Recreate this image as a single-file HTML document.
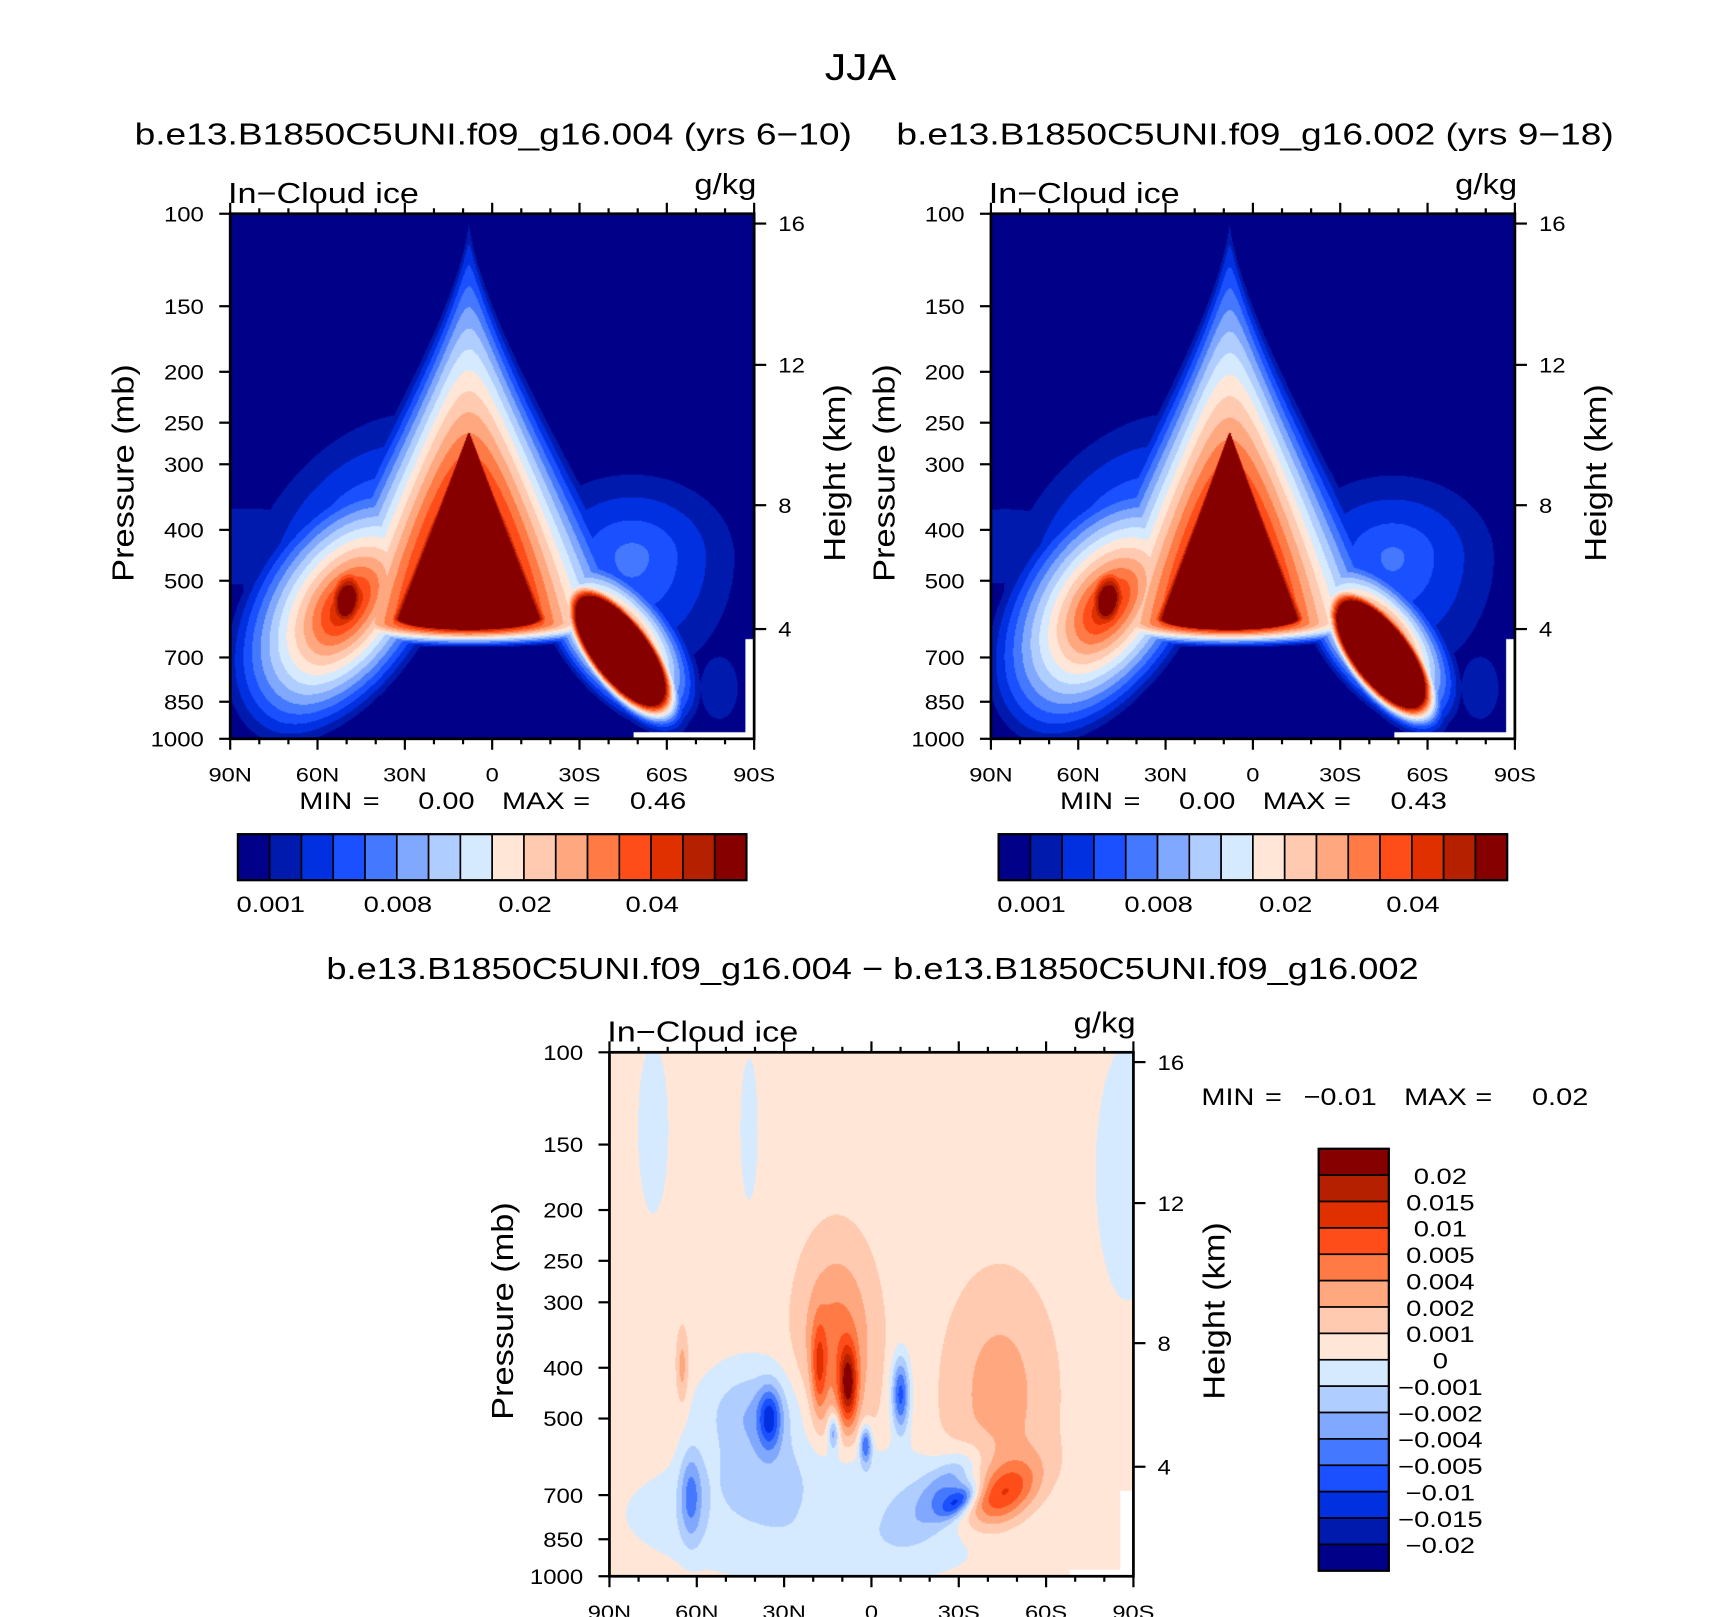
<!DOCTYPE html>
<html><head><meta charset="utf-8">
<style>
html,body{margin:0;padding:0;background:#fff;}
body{width:1710px;height:1616px;overflow:hidden;position:relative;}
#page{position:absolute;left:0;top:0;width:1560px;height:1474.3px;transform:scale(1.09615);transform-origin:0 0;}
canvas{position:absolute;}
svg{position:absolute;left:0;top:0;}
text{font-family:"Liberation Sans","DejaVu Sans",sans-serif;fill:#000;}
</style></head>
<body>
<div id="page">
<canvas id="c1" width="478" height="479" style="left:210px;top:195px;width:478px;height:479px"></canvas>
<canvas id="c2" width="478" height="479" style="left:904px;top:195px;width:478px;height:479px"></canvas>
<canvas id="c3" width="478" height="478" style="left:556px;top:960px;width:478px;height:478px"></canvas>
<svg id="svg" width="1560" height="1475" viewBox="0 0 1560 1475"></svg>
</div>
<script>
// ---- data ----
const latTicks = [90, 60, 30, 0, -30, -60, -90];
const latTickLabels = ["90N", "60N", "30N", "0", "30S", "60S", "90S"];
const presTicks = [100, 150, 200, 250, 300, 400, 500, 700, 850, 1000];
const heightTicks = [16, 12, 8, 4];
const heightTickPres = [104.4, 194, 359, 618];
const iceColors = ["#000088","#001aae","#0030e0","#1a50ff","#4478ff","#80a8ff","#b0cdff","#d6eaff","#ffe6d6","#ffcab0","#ffa880","#ff7a45","#ff4d1a","#e03000","#b42000","#870000"];
const iceBarLabels = ["0.001","0.008","0.02","0.04"];
const iceBarLabelIdx = [1, 5, 9, 13];
const diffBarLabels = ["0.02","0.015","0.01","0.005","0.004","0.002","0.001","0","\u22120.001","\u22120.002","\u22120.004","\u22120.005","\u22120.01","\u22120.015","\u22120.02"];

// panel 1 features (level units). pow 0 = linear profile
const b1Lat   = [8,    8,    50,   50,   -44,  -43,  -48,  85,   -78,  45];
const b1Pres  = [590,  600,  560,  545,  680,  650,  450,  430,  800,  420];
const b1A     = [0.125,0.36, 0.32, 0.06, 0.10, 0.22, 0.25, 0.14, 0.03, 0.35];
const b1Bup   = [1.0,  0.8,  0.20, 0.035,0.042,0.12, 0.20, 0.07, 0.05, 0.22];
const b1Bdn   = [0.02, 0.05, 0.17, 0.035,0.042,0.11, 0.30, 0.07, 0.05, 0.22];
const b1Ang   = [0,    0,    55,   80,   -53,  -50,  0,    0,    0,    50];
const b1Amp   = [30,   20,   15,   17,   40,   17,   4.6,  1.8,  2,    5];
const b1Pow   = [4,    0,    0,    2,    3,    0,    0,    4,    2,    0];
const b1Taper = [2.8,  1.3,  0,    0,    0,    0,    0,    0,    0,    0];
// panel 2
const b2Lat   = [8,    8,    50,   50,   -44,  -43,  -48,  85,   -78,  45];
const b2Pres  = [590,  600,  560,  545,  690,  650,  450,  430,  800,  420];
const b2A     = [0.12, 0.35, 0.32, 0.06, 0.098,0.22, 0.25, 0.14, 0.03, 0.35];
const b2Bup   = [1.0,  0.8,  0.20, 0.035,0.042,0.12, 0.20, 0.07, 0.05, 0.22];
const b2Bdn   = [0.02, 0.05, 0.17, 0.035,0.042,0.11, 0.30, 0.07, 0.05, 0.22];
const b2Ang   = [0,    0,    55,   80,   -53,  -50,  0,    0,    0,    50];
const b2Amp   = [30,   19.5, 14.8, 17,   40,   17,   4.4,  1.7,  2,    5];
const b2Pow   = [4,    0,    0,    2,    3,    0,    0,    4,    2,    0];
const b2Taper = [2.8,  1.3,  0,    0,    0,    0,    0,    0,    0,    0];
// difference panel (signed, added to base 8.5)
const dLat  = [12,  8,    18,   35,   40,   2,    13,   -10,  12,   62,   -30,  -45,  -44,  -88,  75,   42,   65,   -25];
const dPres = [360, 430,  400,  500,  500,  560,  530,  450,  760,  700,  720,  700,  450,  170,  140,  140,  400,  680];
const dA    = [0.05,0.012,0.01, 0.015,0.07, 0.008,0.008,0.012,0.33, 0.015,0.015,0.035,0.07, 0.05, 0.025,0.015,0.008,0.025];
const dB    = [0.13,0.05, 0.06, 0.04, 0.07, 0.025,0.025,0.05, 0.11, 0.06, 0.03, 0.055,0.15, 0.2,  0.14, 0.12, 0.05, 0.06];
const dAng  = [0,   0,    0,    0,    0,    0,    0,    0,    0,    0,    -50,  -50,  0,    0,    0,    0,    0,    -40];
const dAmp  = [3,   5.5,  3,    -4,   -2.6, -4.5, -3.5, -5,   -1.5, -3,   -4.5, 4.5,  2,    -1.5, -1.2, -1.1, 2,    -2.5];
const dPow  = [2,   2,    2,    2,    2,    2,    2,    2,    4,    2,    2,    2,    2,    4,    4,    4,    2,    2];

// ---- axis functions ----
const fx = lat => (90 - lat) / 180;
const fy = p => Math.log10(1000 / p);
function mkX(x0, w){ return lat => x0 + fx(lat) * w; }
function mkY(y0, h){ return p => y0 + h - fy(p) * h; }

function renderField(canvas, f, mode){
  const ctx = canvas.getContext('2d');
  const W = canvas.width, H = canvas.height;
  const img = ctx.createImageData(W, H);
  const rgb = iceColors.map(c => [parseInt(c.substr(1,2),16),parseInt(c.substr(3,2),16),parseInt(c.substr(5,2),16)]);
  const n = f.lat.length;
  const cx = f.lat.map(fx), cy = f.pres.map(fy);
  const ca = f.ang.map(a => Math.cos(a*Math.PI/180)), sa = f.ang.map(a => Math.sin(a*Math.PI/180));
  for (let j = 0; j < H; j++){
    const v = 1 - (j + 0.5) / H;
    for (let i = 0; i < W; i++){
      const u = (i + 0.5) / W;
      let L = mode === 'diff' ? 8.5 : 0;
      for (let k = 0; k < n; k++){
        const dx = u - cx[k], dy = v - cy[k];
        let A = f.A[k];
        const tp = f.taper ? f.taper[k] : 0;
        if (tp && dy > 0){ const fac = 1 - tp*dy; A = fac > 0.01 ? A*fac : 0.0001; }
        const p1 = dx*ca[k] + dy*sa[k];
        const p2 = -dx*sa[k] + dy*ca[k];
        const B = p2 >= 0 ? f.Bup[k] : f.Bdn[k];
        const r1 = p1 / A, r2 = p2 / B;
        const r = Math.sqrt(r1*r1 + r2*r2);
        const pw = f.pow[k];
        const val = pw === 0 ? f.amp[k] * Math.max(0, 1 - r) : f.amp[k] * Math.exp(-0.5 * Math.pow(r, pw));
        if (mode === 'diff') L += val; else L = Math.max(L, val);
      }
      let idx = Math.floor(L); if (idx < 0) idx = 0; if (idx > 15) idx = 15;
      const o = (j*W + i) * 4, c = rgb[idx];
      img.data[o] = c[0]; img.data[o+1] = c[1]; img.data[o+2] = c[2]; img.data[o+3] = 255;
    }
  }
  ctx.putImageData(img, 0, 0);
  ctx.fillStyle = '#fff';
  if (mode === 'diff'){
    ctx.fillRect(466, 400, 12, 78); ctx.fillRect(420, 472, 58, 6);
  } else {
    ctx.fillRect(470, 388, 8, 91); ctx.fillRect(368, 473, 110, 6);
  }
}
renderField(document.getElementById('c1'), {lat:b1Lat, pres:b1Pres, A:b1A, Bup:b1Bup, Bdn:b1Bdn, ang:b1Ang, amp:b1Amp, pow:b1Pow, taper:b1Taper}, 'max');
renderField(document.getElementById('c2'), {lat:b2Lat, pres:b2Pres, A:b2A, Bup:b2Bup, Bdn:b2Bdn, ang:b2Ang, amp:b2Amp, pow:b2Pow, taper:b2Taper}, 'max');
renderField(document.getElementById('c3'), {lat:dLat, pres:dPres, A:dA, Bup:dB, Bdn:dB, ang:dAng, amp:dAmp, pow:dPow, taper:null}, 'diff');

// ---- SVG annotations ----
const NS = 'http://www.w3.org/2000/svg';
const svg = document.getElementById('svg');
function el(tag, attrs, txt){
  const e = document.createElementNS(NS, tag);
  for (const k in attrs) e.setAttribute(k, attrs[k]);
  if (txt !== undefined) e.textContent = txt;
  svg.appendChild(e); return e;
}
function label(x, y, s, size, anchor, name, stretch){
  const t = el('text', {x:x, y:y, 'font-size':size, 'text-anchor':anchor||'start'}, s);
  
  
  const k = stretch || 1.2;
  const len = t.getComputedTextLength();
  if (len > 0){
    t.setAttribute('textLength', (len * k).toFixed(1));
    t.setAttribute('lengthAdjust', 'spacingAndGlyphs');
  }
  return t;
}

label(785, 73, 'JJA', 34, 'middle', 'main-title', 1.15);
label(450, 132, 'b.e13.B1850C5UNI.f09_g16.004 (yrs 6\u221210)', 28, 'middle', 'left-panel-title', 1.21);
label(1145, 132, 'b.e13.B1850C5UNI.f09_g16.002 (yrs 9\u221218)', 28, 'middle', 'right-panel-title', 1.21);
label(796, 893, 'b.e13.B1850C5UNI.f09_g16.004 \u2212 b.e13.B1850C5UNI.f09_g16.002', 28, 'middle', 'difference-title', 1.18);

function panel(x0, y0, w, h, prefix){
  const X = mkX(x0, w), Y = mkY(y0, h);
  const fr = el('rect', {x:x0, y:y0, width:w, height:h, fill:'none', stroke:'#000', 'stroke-width':2.5});
  
  
  for (let lat = 90; lat >= -90; lat -= 10){
    const major = lat % 30 === 0;
    const x = X(lat);
    const len = major ? 10 : 5;
    const tk = el('line', {x1:x, x2:x, y1:y0, y2:y0 - len, stroke:'#000', 'stroke-width':2});
    
    
    const bk = el('line', {x1:x, x2:x, y1:y0 + h, y2:y0 + h + len, stroke:'#000', 'stroke-width':2});
    
    
  }
  latTicks.forEach((lat, i) => {
    label(X(lat), y0 + h + 39, latTickLabels[i], 18, 'middle', prefix + '-lat-label', 1.2);
  });
  presTicks.forEach(p => {
    const y = Y(p);
    const tk = el('line', {x1:x0 - 10, x2:x0, y1:y, y2:y, stroke:'#000', 'stroke-width':2});
    
    
    label(x0 - 24, y + 7, String(p), 19, 'end', prefix + '-pressure-label', 1.15);
  });
  heightTicks.forEach((hkm, i) => {
    const y = Y(heightTickPres[i]);
    const tk = el('line', {x1:x0 + w, x2:x0 + w + 11, y1:y, y2:y, stroke:'#000', 'stroke-width':2});
    
    
    label(x0 + w + 22, y + 7, String(hkm), 19, 'start', prefix + '-height-label', 1.15);
  });
  label(x0 - 2, y0 - 10, 'In\u2212Cloud ice', 26, 'start', prefix + '-variable-label', 1.2);
  label(x0 + w + 2, y0 - 18, 'g/kg', 26, 'end', prefix + '-units-label', 1.15);
  const yl = label(0, 0, 'Pressure (mb)', 28, 'middle', prefix + '-y-axis-title', 1.12);
  yl.setAttribute('transform', 'translate(' + (x0 - 88) + ',' + (y0 + h/2 - 3) + ') rotate(-90)');
  const hl = label(0, 0, 'Height (km)', 28, 'middle', prefix + '-right-axis-title', 1.12);
  hl.setAttribute('transform', 'translate(' + (x0 + w + 83) + ',' + (y0 + h/2 - 3) + ') rotate(-90)');
}
panel(210, 195, 478, 479, 'left');
panel(904, 195, 478, 479, 'right');
panel(556, 960, 478, 478, 'diff');

function minmax(x, y, mn, mx, prefix){
  label(x, y, 'MIN', 22, 'start', prefix + '-min-label', 1.2);
  label(x + 58, y, '=', 22, 'start', prefix + '-min-equals', 1.2);
  label(x + 160, y, mn, 22, 'end', prefix + '-min-value', 1.2);
  label(x + 185, y, 'MAX', 22, 'start', prefix + '-max-label', 1.2);
  label(x + 250, y, '=', 22, 'start', prefix + '-max-equals', 1.2);
  label(x + 353, y, mx, 22, 'end', prefix + '-max-value', 1.2);
}
minmax(273, 738, '0.00', '0.46', 'left');
minmax(967, 738, '0.00', '0.43', 'right');
minmax(1096, 1008, '\u22120.01', '0.02', 'diff');

function hbar(x0, y0, w, h, prefix){
  const bw = w / iceColors.length;
  iceColors.forEach((c, i) => {
    const r = el('rect', {x:x0 + i*bw, y:y0, width:bw, height:h, fill:c, stroke:'#000', 'stroke-width':1.5});
    
    
  });
  el('rect', {x:x0, y:y0, width:w, height:h, fill:'none', stroke:'#000', 'stroke-width':2});
  iceBarLabels.forEach((s, i) => {
    label(x0 + iceBarLabelIdx[i]*bw + 1, y0 + 71, s, 20, 'middle', prefix + '-colorbar-label', 1.25);
  });
}
hbar(217, 761, 464, 42, 'left');
hbar(911, 761, 464, 42, 'right');

(function vbar(){
  const x0 = 1203, y0 = 1048, w = 64, h = 385;
  const bh = h / 16;
  for (let i = 0; i < 16; i++){
    const r = el('rect', {x:x0, y:y0 + i*bh, width:w, height:bh, fill:iceColors[15 - i], stroke:'#000', 'stroke-width':1.5});
    
    
  }
  el('rect', {x:x0, y:y0, width:w, height:h, fill:'none', stroke:'#000', 'stroke-width':2});
  diffBarLabels.forEach((s, i) => {
    label(1314, y0 + (i+1)*bh + 8, s, 20, 'middle', 'diff-colorbar-label', 1.25);
  });
})();
</script>
</body></html>
